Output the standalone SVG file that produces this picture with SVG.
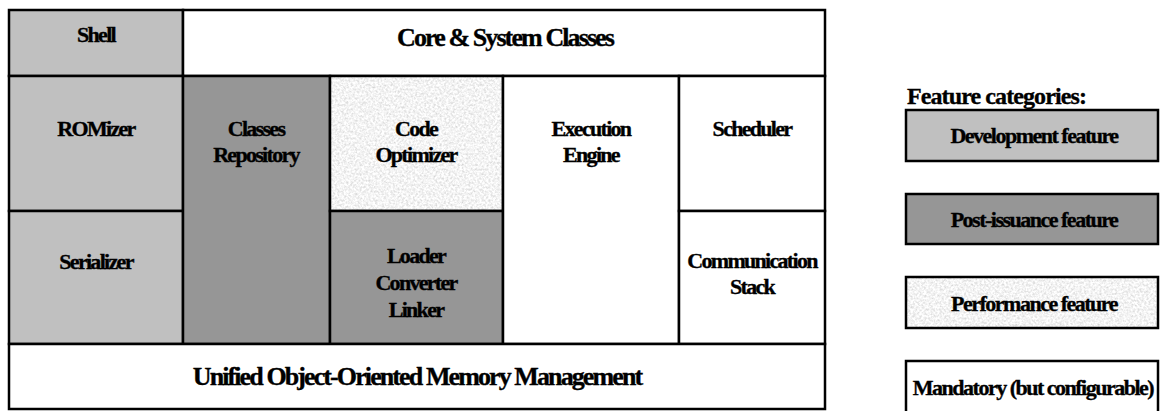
<svg xmlns="http://www.w3.org/2000/svg" width="1160" height="411" viewBox="0 0 1160 411">
<style>
.box{stroke:#000;stroke-width:2.5}
.dev{fill:#c0c0c0}
.post{fill:#969696}
.mand{fill:#fff}
text{font-family:"Liberation Serif","Times New Roman",serif;font-weight:bold;fill:#000;stroke:#000;stroke-width:0.35}
.lbl{font-size:22px;letter-spacing:-1.7px;text-anchor:middle}
.big{font-size:26px;letter-spacing:-1.9px;text-anchor:middle}
.leg{font-size:22px;letter-spacing:-1.5px;text-anchor:middle}
.title{font-size:24px;letter-spacing:-0.9px}
</style>
<defs>
<filter id="granite" x="0" y="0" width="1" height="1" filterUnits="objectBoundingBox">
<feTurbulence type="fractalNoise" baseFrequency="0.45" numOctaves="3" seed="7" result="n"/>
<feColorMatrix in="n" type="matrix" values="0.6 0 0 0 0.6  0.6 0 0 0 0.6  0.6 0 0 0 0.6  0 0 0 0 1"/>
</filter>
</defs>
<g id="diagram">
<g id="shell"><rect class="box dev" x="9" y="10" width="174" height="66"/><text class="lbl" x="96" y="42">Shell</text></g>
<g id="core"><rect class="box mand" x="183" y="10" width="642" height="66"/><text class="big" x="505" y="46">Core &amp; System Classes</text></g>
<g id="romizer"><rect class="box dev" x="9" y="76" width="174" height="135"/><text class="lbl" x="96" y="136">ROMizer</text></g>
<g id="serializer"><rect class="box dev" x="9" y="211" width="174" height="133"/><text class="lbl" x="96" y="269">Serializer</text></g>
<g id="classes-repository"><rect class="box post" x="183" y="76" width="147" height="268"/><text class="lbl" x="256" y="136">Classes</text><text class="lbl" x="256" y="162">Repository</text></g>
<g id="code-optimizer"><rect x="330" y="76" width="173" height="135" fill="#e6e6e6" filter="url(#granite)"/><rect class="box" fill="none" x="330" y="76" width="173" height="135"/><text class="lbl" x="416" y="136">Code</text><text class="lbl" x="416" y="162">Optimizer</text></g>
<g id="loader"><rect class="box post" x="330" y="211" width="173" height="133"/><text class="lbl" x="416" y="263">Loader</text><text class="lbl" x="416" y="290">Converter</text><text class="lbl" x="416" y="317">Linker</text></g>
<g id="execution-engine"><rect class="box mand" x="503" y="76" width="176" height="268"/><text class="lbl" x="591" y="136">Execution</text><text class="lbl" x="591" y="162">Engine</text></g>
<g id="scheduler"><rect class="box mand" x="679" y="76" width="146" height="135"/><text class="lbl" x="752" y="136">Scheduler</text></g>
<g id="communication-stack"><rect class="box mand" x="679" y="211" width="146" height="133"/><text class="lbl" x="752" y="268">Communication</text><text class="lbl" x="752" y="294">Stack</text></g>
<g id="memory"><rect class="box mand" x="9" y="344" width="816" height="65"/><text class="big" x="417" y="385">Unified Object-Oriented Memory Management</text></g>
</g>
<g id="connectors"></g>
<g id="legend">
<text class="title" x="907" y="104">Feature categories:</text>
<g id="leg-dev"><rect class="box dev" x="906" y="110" width="252" height="51"/><text class="leg" x="1034" y="143">Development feature</text></g>
<g id="leg-post"><rect class="box post" x="906" y="194" width="252" height="50"/><text class="leg" x="1034" y="227">Post-issuance feature</text></g>
<g id="leg-perf"><rect x="906" y="277" width="252" height="51" fill="#e6e6e6" filter="url(#granite)"/><rect class="box" fill="none" x="906" y="277" width="252" height="51"/><text class="leg" x="1034" y="311">Performance feature</text></g>
<g id="leg-mand"><rect class="box mand" x="906" y="361" width="252" height="52"/><text class="leg" x="1033" y="395">Mandatory (but configurable)</text></g>
</g>
</svg>
